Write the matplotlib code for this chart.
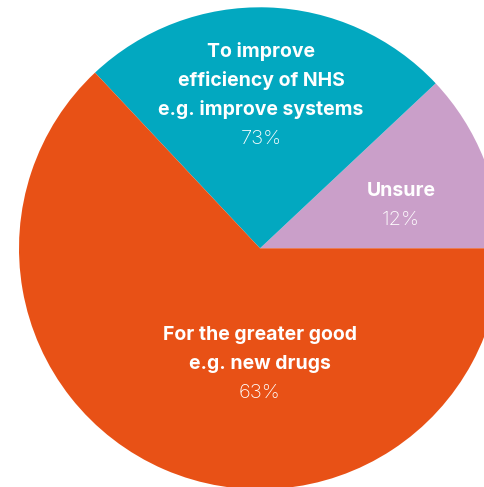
import matplotlib
matplotlib.use("Agg")
import matplotlib.pyplot as plt

# Survey shares (slice sizes, counter-clockwise from 3 o'clock)
categories = ["Unsure", "To improve efficiency of NHS", "For the greater good"]
shares = [12, 25, 63]
colors = ["#CA9FC9", "#02A8C0", "#E85116"]

# Text shown in each slice
label_lines = [
    ["Unsure"],
    ["To improve", "efficiency of NHS", "e.g. improve systems"],
    ["For the greater good", "e.g. new drugs"],
]
pct_labels = ["12%", "73%", "63%"]

W, H = 484, 487
fig = plt.figure(figsize=(W / 100, H / 100), dpi=100)
ax = fig.add_axes([0, 0, 1, 1])

ax.pie(shares, colors=colors, startangle=0, counterclock=True, radius=1.0,
       wedgeprops=dict(linewidth=0))

# pixel geometry of the pie on the canvas
cx, cy, r = 260.0, 248.3, 241.0
ax.set_aspect("auto")
ax.set_xlim(-cx / r, (W - cx) / r)
ax.set_ylim(-(H - cy) / r, cy / r)
ax.axis("off")


def to_data(px, py):
    return (px - cx) / r, (cy - py) / r


# label anchor (centre x, first baseline y) in pixels; line step in pixels
anchors = [(401, 196), (261, 56.7), (260, 340)]
step = 29.0
bold_font = dict(family=["Inter", "DejaVu Sans"], weight="bold", size=14.0)
light_font = dict(family=["Inter", "DejaVu Sans"], weight="light", size=14.5)

for lines, pct, (ax_px, ay_px) in zip(label_lines, pct_labels, anchors):
    for i, line in enumerate(lines):
        x, y = to_data(ax_px, ay_px + i * step)
        ax.text(x, y, line, color="white", ha="center", va="baseline", **bold_font)
    x, y = to_data(ax_px, ay_px + len(lines) * step)
    ax.text(x, y, pct, color="white", ha="center", va="baseline", **light_font)

fig.savefig("out.png", dpi=100, facecolor="white")
